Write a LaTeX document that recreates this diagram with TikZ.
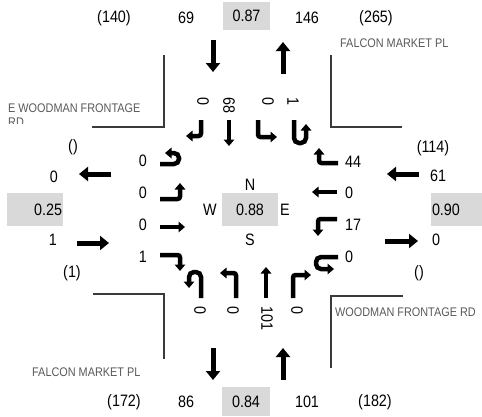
\documentclass[tikz,border=0pt]{standalone}
\usepackage{fontspec}
\setmainfont{Liberation Sans}[FakeStretch=0.87]
\usetikzlibrary{arrows.meta}
\definecolor{phfgray}{HTML}{D9D9D9}
\definecolor{streetgray}{HTML}{595959}
\definecolor{curbgray}{HTML}{3A3A3A}

\begin{document}
\begin{tikzpicture}[
        x=1pt, y=-1pt,
        every node/.style={inner sep=0pt, font=\fontsize{16.5}{18}\selectfont},
        vol/.style={rotate=-90, anchor=west},
        street/.style={text=streetgray, font=\fontsize{12.5}{14}\selectfont, anchor=west, align=left},
        ratio/.style={fill=phfgray, minimum width=47pt, minimum height=28pt},
        approach/.style={line width=5pt, -{Triangle[width=14pt, length=9pt]}},
        lane/.style={line width=4.5pt, rounded corners=2.5pt, -{Triangle[width=10.5pt, length=6.5pt]}},
        uturn/.style={lane, rounded corners=5pt},
        curb/.style={draw=curbgray, line width=1.8pt}
    ]
        \useasboundingbox (0,0) rectangle (482,416);

        % north leg
        \node (n-tot-w) at (114,18) {(140)};
        \node (n-in) at (186,18) {69};
        \node[ratio] (n-phf) at (246.5,16) {0.87};
        \node (n-out) at (307,18) {146};
        \node (n-tot-e) at (376,18) {(265)};
        \draw[approach] (213,40) -- (213,72);
        \draw[approach] (283,74) -- (283,42);
        \node[vol] (n-rt) at (203,97) {0};
        \node[vol] (n-th) at (229,97) {68};
        \node[vol] (n-lt) at (268,97) {0};
        \node[vol] (n-ut) at (293,97) {1};
        \draw[lane] (201,120) -- (201,136) -- (186,136);
        \draw[lane] (229,120) -- (229,146);
        \draw[lane] (258,120) -- (258,137) -- (277,137);
        \draw[uturn] (294,120) -- (294,143) -- (306,143) -- (306,124);

        % south leg
        \node[vol] (s-ut) at (200,306) {0};
        \node[vol] (s-lt) at (233,306) {0};
        \node[vol] (s-th) at (267,306) {101};
        \node[vol] (s-rt) at (297,306) {0};
        \draw[uturn] (201,298) -- (201,272) -- (189,272) -- (189,288);
        \draw[lane] (236,298) -- (236,273) -- (220,273);
        \draw[lane] (266,298) -- (266,267);
        \draw[lane] (293,298) -- (293,275) -- (311,275);
        \draw[approach] (213,348) -- (213,380);
        \draw[approach] (283,380) -- (283,348);
        \node (s-tot-w) at (124,402) {(172)};
        \node (s-out) at (186,402) {86};
        \node[ratio, minimum width=48pt, minimum height=29pt] (s-phf) at (246,401.5) {0.84};
        \node (s-in) at (307,402) {101};
        \node (s-tot-e) at (375,402) {(182)};

        % west leg
        \node (w-tot-n) at (73,147) {()};
        \node[anchor=east] (w-out) at (58,177) {0};
        \node[ratio, minimum height=33pt, text width=54pt, align=right, inner xsep=1pt] (w-phf) at (35,209.5) {0.25};
        \node[anchor=east] (w-in) at (57,240) {1};
        \node (w-tot-s) at (72,273) {(1)};
        \draw[approach] (111,174) -- (79,174);
        \draw[approach] (77,243) -- (109,243);
        \node[anchor=east] (w-ut) at (147,161) {0};
        \node[anchor=east] (w-lt) at (147,193) {0};
        \node[anchor=east] (w-th) at (147,225) {0};
        \node[anchor=east] (w-rt) at (147,257) {1};
        \draw[uturn] (160,164) -- (179,164) -- (179,153) -- (165,153);
        \draw[lane] (160,199) -- (180,199) -- (180,183);
        \draw[lane] (160,227) -- (185,227);
        \draw[lane] (160,255) -- (180,255) -- (180,271);

        % east leg
        \node (e-tot-n) at (433,148) {(114)};
        \node[anchor=west] (e-in) at (430,176) {61};
        \node[ratio, minimum height=33pt, text width=49pt, align=left, inner xsep=1pt] (e-phf) at (456.5,209.5) {0.90};
        \node[anchor=west] (e-out) at (432,240) {0};
        \node (e-tot-s) at (419,273) {()};
        \draw[approach] (419,174) -- (387,174);
        \draw[approach] (385,241) -- (418,241);
        \node[anchor=west] (e-rt) at (345,162) {44};
        \node[anchor=west] (e-th) at (345,193) {0};
        \node[anchor=west] (e-lt) at (345,225) {17};
        \node[anchor=west] (e-ut) at (345,257) {0};
        \draw[lane] (338,163) -- (319,163) -- (319,148);
        \draw[lane] (337,192) -- (312,192);
        \draw[lane] (337,219) -- (318,219) -- (318,236);
        \draw[uturn] (338,257) -- (316,257) -- (316,269) -- (334,269);

        % intersection centre
        \node (ctr-n) at (250,185) {N};
        \node (ctr-w) at (210,210) {W};
        \node[ratio, minimum width=56pt, minimum height=33pt] (ctr-phf) at (250,209.5) {0.88};
        \node (ctr-e) at (285,210) {E};
        \node (ctr-s) at (250,240) {S};

        % curbs and street names
        \draw[curb] (164,55) -- (164,127) -- (92,127);
        \draw[curb] (331,55) -- (331,127) -- (402,127);
        \draw[curb] (93,294) -- (164,294) -- (164,359);
        \draw[curb] (403,296) -- (331,296) -- (331,368);
        \node[street] (st-falcon-n) at (340,43) {FALCON MARKET PL};
        \begin{scope}
            \clip (0,90) rectangle (160,123);
            \node[street] (st-woodman-w) at (8,115) {E WOODMAN FRONTAGE\\RD};
        \end{scope}
        \node[street] (st-woodman-e) at (335,312) {WOODMAN FRONTAGE RD};
        \node[street] (st-falcon-s) at (32,372) {FALCON MARKET PL};
    \end{tikzpicture}
\end{document}
